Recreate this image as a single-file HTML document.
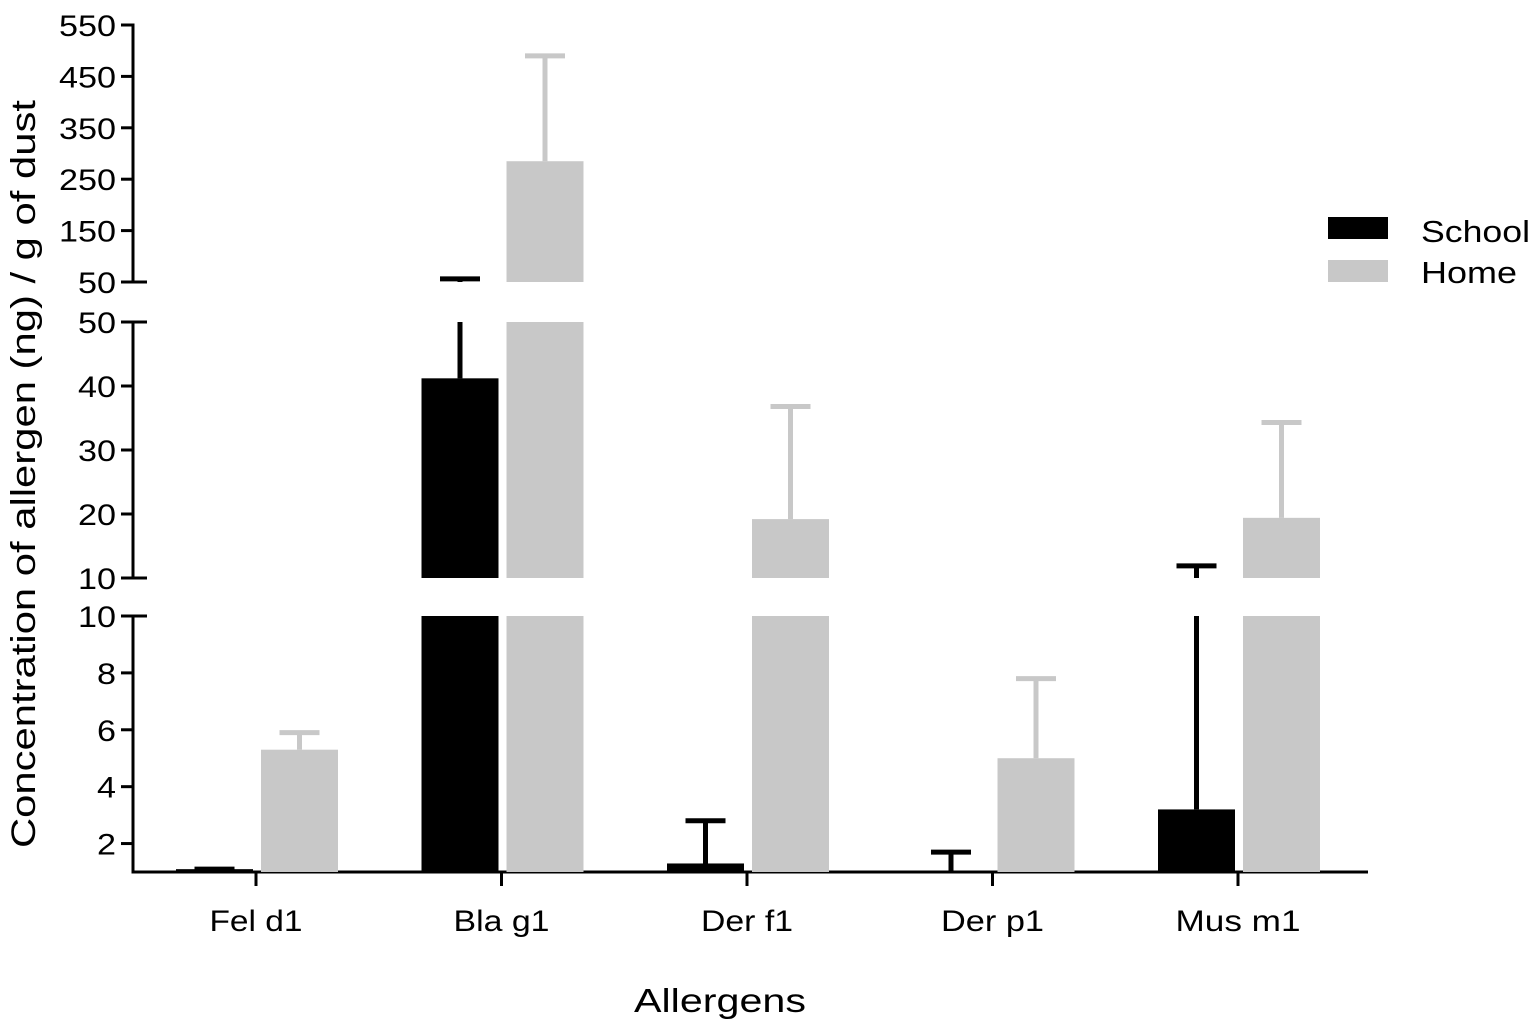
<!DOCTYPE html>
<html><head><meta charset="utf-8"><style>
html,body{margin:0;padding:0;background:#fff;}
svg{display:block;font-family:"Liberation Sans",Arial,sans-serif;}
</style></head><body>
<svg id="chart" width="1533" height="1024" viewBox="0 0 1533 1024">
<g id="axes"></g><g id="bars"></g>
<text x="35" y="474" transform="rotate(-90 35 474)" text-anchor="middle" font-size="34" textLength="748" lengthAdjust="spacingAndGlyphs" fill="#000">Concentration of allergen (ng) / g of dust</text>
<text x="720" y="1012" text-anchor="middle" font-size="33" textLength="172" lengthAdjust="spacingAndGlyphs" fill="#000">Allergens</text>
<g>
<rect x="1328" y="217" width="60" height="22" fill="#000"/>
<text x="1421" y="242" font-size="31" textLength="109" lengthAdjust="spacingAndGlyphs" fill="#000">School</text>
<rect x="1328" y="260" width="60" height="22" fill="#c8c8c8"/>
<text x="1421" y="283" font-size="31" textLength="96" lengthAdjust="spacingAndGlyphs" fill="#000">Home</text>
</g>
</svg>
<script>
const categories=["Fel d1","Bla g1","Der f1","Der p1","Mus m1"];
const schoolValues=[1.1,41.2,1.3,1.0,3.2];
const schoolErrors=[1.1,56,2.8,1.7,11.9];
const homeValues=[5.3,285,19.2,5.0,19.4];
const homeErrors=[5.9,490,36.8,7.8,34.3];
const bottomTicks=["2","4","6","8","10"];
const middleTicks=["10","20","30","40","50"];
const topTicks=["50","150","250","350","450","550"];
const labelWidths=[93,96,92,103,125];

const NS="http://www.w3.org/2000/svg";
const segs=[
 {lo:1,hi:10,y0:872,y1:616,ticks:bottomTicks},
 {lo:10,hi:50,y0:578,y1:322,ticks:middleTicks},
 {lo:50,hi:550,y0:282,y1:25,ticks:topTicks}
];
function sy(s,v){return s.y0+(v-s.lo)/(s.hi-s.lo)*(s.y1-s.y0);}
function xc(i){return 256+i*245.5;}
function mk(tag,attrs,parent){const e=document.createElementNS(NS,tag);for(const k in attrs)e.setAttribute(k,attrs[k]);parent.appendChild(e);return e;}
const axes=document.getElementById('axes'),bars=document.getElementById('bars');

segs.forEach((s,si)=>{
 const l=mk('line',{x1:133,x2:133,y1:s.y0+1.5,y2:s.y1-1.5,stroke:'#000','stroke-width':3},axes);
 
 
 s.ticks.forEach((t,ti)=>{
  const v=+t,y=sy(s,v);
  const edge=(si<2&&v===s.hi)||(si>0&&v===s.lo);
  const tk=mk('line',{x1:121,x2:edge?147:133,y1:y,y2:y,stroke:'#000','stroke-width':3},axes);
  
  
  const tx=mk('text',{x:116,y:y+11,'text-anchor':'end','font-size':30,textLength:t.length*19,lengthAdjust:'spacingAndGlyphs',fill:'#000'},axes);
  tx.textContent=t;
  
  
 });
});
const xa=mk('line',{x1:131.5,x2:1368,y1:872,y2:872,stroke:'#000','stroke-width':3},axes);


categories.forEach((c,i)=>{
 const x=xc(i);
 const tk=mk('line',{x1:x,x2:x,y1:872,y2:886,stroke:'#000','stroke-width':3},axes);
 
 
 const t=mk('text',{x:x,y:931,'text-anchor':'middle','font-size':30,textLength:labelWidths[i],lengthAdjust:'spacingAndGlyphs',fill:'#000'},axes);
 t.textContent=c;
 
 
});

function drawBar(x,w,val,err,color,name){
 segs.forEach(s=>{
  const a=Math.max(s.lo,1),b=Math.min(s.hi,val);
  if(b>a){
   const r=mk('rect',{x:x,y:sy(s,b),width:w,height:sy(s,a)-sy(s,b),fill:color},bars);
   
   
  }
  const ea=Math.max(s.lo,val),eb=Math.min(s.hi,err);
  if(eb>ea){
   const ln=mk('line',{x1:x+w/2,x2:x+w/2,y1:sy(s,ea),y2:sy(s,eb),stroke:color,'stroke-width':5},bars);
   
   
  }
  if(err>=s.lo&&err<=s.hi){
   const y=sy(s,err);
   const cp=mk('line',{x1:x+w/2-20,x2:x+w/2+20,y1:y,y2:y,stroke:color,'stroke-width':5},bars);
   
   
  }
 });
}
categories.forEach((c,i)=>{
 const x=xc(i);
 drawBar(x-80,77,schoolValues[i],schoolErrors[i],'#000','bar-school');
 drawBar(x+5,77,homeValues[i],homeErrors[i],'#c8c8c8','bar-home');
});
</script>
</body></html>
